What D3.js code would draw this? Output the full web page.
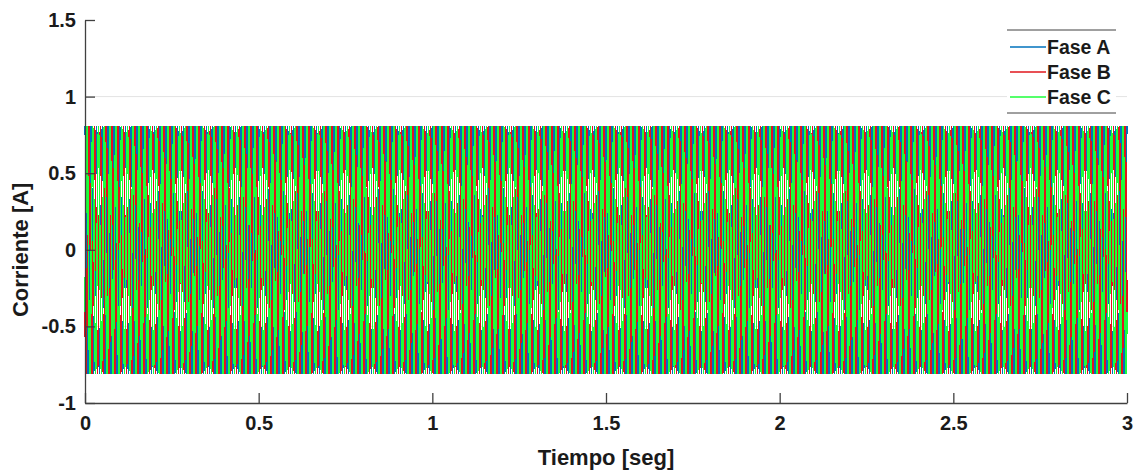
<!DOCTYPE html>
<html>
<head>
<meta charset="utf-8">
<script src="https://cdn.jsdelivr.net/npm/d3@7"></script>
<style>
  body { margin: 0; background: #fff; }
  text { font-family: "Liberation Sans", Arial, sans-serif; font-weight: bold; fill: #1a1a1a; }
</style>
</head>
<body>
<div id="chart"></div>
<script>
// series names and colours
var phaseNames = ["Fase A", "Fase B", "Fase C"];
var phaseColors = ["#0072BD", "#E0161C", "#1CFF3A"];

// one cycle of the current (30 deg steps, peak ~0.81 A)
var cycleValues = [0.81, 0.70, 0.405, 0, -0.405, -0.70, -0.81, -0.70, -0.405, 0, 0.405, 0.70];
// each phase is the same cycle shifted by 120 deg (4 samples)
var phaseShift = [0, 4, 8];
var frequency = 60;      // Hz, ~12 cycles per 70 px
var tEnd = 3;            // seg

var xTicks = [0, 0.5, 1, 1.5, 2, 2.5, 3];
var yTicks = [-1, -0.5, 0, 0.5, 1, 1.5];

var width = 1138, height = 470;
var svg = d3.select("#chart").append("svg")
    .attr("width", width)
    .attr("height", height);

var xScale = d3.scaleLinear().domain([0, 3]).range([85, 1127]);
var yScale = d3.scaleLinear().domain([-1, 1.5]).range([403, 20]);

// gridlines (only horizontal)
svg.append("g").selectAll("line")
    .data(yTicks.filter(function(d) { return d > -1 && d < 1.5; }))
    .enter().append("line")
    .attr("x1", xScale(0)).attr("x2", xScale(3))
    .attr("y1", function(d) { return yScale(d); })
    .attr("y2", function(d) { return yScale(d); })
    .attr("stroke", "#e3e3e3")
    .attr("stroke-width", 1);

// build the series
var nPer = cycleValues.length;
var nCycles = frequency * tEnd;
var series = phaseNames.map(function(name, k) {
    var pts = [];
    for (var i = 0; i <= nCycles * nPer; i++) {
        pts.push({t: i / (nPer * frequency), v: cycleValues[(i + phaseShift[k]) % nPer]});
    }
    return pts;
});

var lineGenerator = d3.line()
    .x(function(d) { return xScale(d.t); })
    .y(function(d) { return yScale(d.v); });

series.forEach(function(s, k) {
    svg.append("path")
        .attr("d", lineGenerator(s))
        .attr("fill", "none")
        .attr("stroke", phaseColors[k])
        .attr("stroke-width", 1.5)
        .attr("shape-rendering", "crispEdges");
});

var fmt = function(d) { return d3.format("~g")(d).replace("\u2212", "-"); };

// axes, matlab style ticks pointing inward
var xAxis = d3.axisBottom(xScale).tickValues(xTicks).tickSizeInner(-10).tickSizeOuter(0)
    .tickPadding(10).tickFormat(fmt);
var yAxis = d3.axisLeft(yScale).tickValues(yTicks).tickSizeInner(-10).tickSizeOuter(0)
    .tickPadding(9).tickFormat(fmt);

var gx = svg.append("g")
    .attr("transform", "translate(0," + yScale(-1) + ")")
    .call(xAxis);
var gy = svg.append("g")
    .attr("transform", "translate(" + xScale(0) + ",0)")
    .call(yAxis);

[gx, gy].forEach(function(g) {
    g.select(".domain").attr("stroke", "#404040").attr("stroke-width", 1.3);
    g.selectAll(".tick line").attr("stroke", "#404040").attr("stroke-width", 1.3);
    g.selectAll(".tick text")
        .style("font-family", "'Liberation Sans', Arial, sans-serif")
        .style("font-weight", "bold")
        .style("font-size", "20px")
        .attr("fill", "#1a1a1a");
});
gx.selectAll(".tick text").attr("dy", "0.85em");

// axis labels
svg.append("text")
    .attr("x", xScale(1.5))
    .attr("y", 465)
    .attr("text-anchor", "middle")
    .style("font-size", "22px")
    .text("Tiempo [seg]");

svg.append("text")
    .attr("transform", "translate(28," + yScale(0) + ") rotate(-90)")
    .attr("text-anchor", "middle")
    .style("font-size", "22px")
    .text("Corriente [A]");

// legend
var legend = svg.append("g");
legend.append("rect")
    .attr("x", 1007).attr("y", 30).attr("width", 109).attr("height", 83)
    .attr("fill", "#fff");
legend.append("line").attr("x1", 1007).attr("x2", 1116).attr("y1", 30).attr("y2", 30)
    .attr("stroke", "#404040").attr("stroke-width", 1);
legend.append("line").attr("x1", 1007).attr("x2", 1116).attr("y1", 113).attr("y2", 113)
    .attr("stroke", "#404040").attr("stroke-width", 1);

phaseNames.forEach(function(name, k) {
    var y = 47 + k * 25;
    legend.append("line")
        .attr("x1", 1010).attr("x2", 1046)
        .attr("y1", y).attr("y2", y)
        .attr("stroke", phaseColors[k])
        .attr("stroke-width", 1.5);
    legend.append("text")
        .attr("x", 1047).attr("y", y)
        .attr("dy", "0.35em")
        .style("font-size", "19.5px")
        .text(name);
});
</script>
</body>
</html>
